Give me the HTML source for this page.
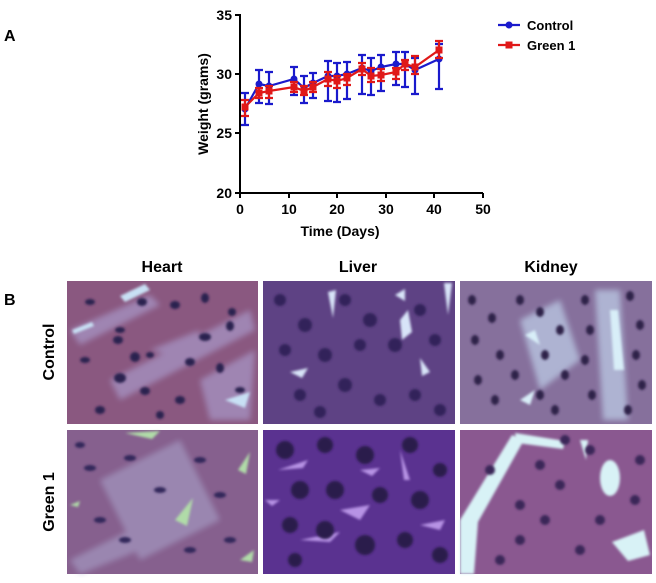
<!DOCTYPE html>
<html><head><style>
body{margin:0;background:#fff;width:656px;height:578px;overflow:hidden;font-family:"Liberation Sans",sans-serif}
</style></head><body>
<svg width="656" height="578" xmlns="http://www.w3.org/2000/svg" font-family="Liberation Sans, sans-serif" font-weight="bold">
<defs>
<filter id="bl"><feGaussianBlur stdDeviation="1.2"/></filter>
<filter id="bl3"><feGaussianBlur stdDeviation="3"/></filter>
</defs>
<text x="4" y="41" font-size="16">A</text>
<text x="4" y="305" font-size="16">B</text>
<g stroke="#000" stroke-width="2" fill="none">
<line x1="240" y1="14" x2="240" y2="193"/>
<line x1="239" y1="193" x2="483" y2="193"/>
<line x1="235" y1="15" x2="240" y2="15"/><line x1="235" y1="74" x2="240" y2="74"/><line x1="235" y1="133" x2="240" y2="133"/><line x1="235" y1="193" x2="240" y2="193"/>
<line x1="240" y1="193" x2="240" y2="198"/><line x1="289" y1="193" x2="289" y2="198"/><line x1="337" y1="193" x2="337" y2="198"/><line x1="386" y1="193" x2="386" y2="198"/><line x1="434" y1="193" x2="434" y2="198"/><line x1="483" y1="193" x2="483" y2="198"/>
</g>
<g font-size="14" text-anchor="end">
<text x="232" y="20">35</text><text x="232" y="79">30</text><text x="232" y="138">25</text><text x="232" y="198">20</text>
</g>
<g font-size="14" text-anchor="middle">
<text x="240" y="214">0</text><text x="289" y="214">10</text><text x="337" y="214">20</text><text x="386" y="214">30</text><text x="434" y="214">40</text><text x="483" y="214">50</text>
<text x="340" y="236" font-size="14">Time (Days)</text>
<text transform="translate(208,104) rotate(-90)" font-size="14">Weight (grams)</text>
</g>
<g stroke="#1a1acc" stroke-width="2.2" fill="none">
<path d="M245,125V93M241,93h8M241,125h8 M259,103V70M255,70h8M255,103h8 M269,104V72M265,72h8M265,104h8 M294,95V67M290,67h8M290,95h8 M304,103V76M300,76h8M300,103h8 M313,98V73M309,73h8M309,98h8 M328,101V61M324,61h8M324,101h8 M337,102V63M333,63h8M333,102h8 M347,99V62M343,62h8M343,99h8 M362,94V55M358,55h8M358,94h8 M371,95V58M367,58h8M367,95h8 M381,91V55M377,55h8M377,91h8 M396,85V52M392,52h8M392,85h8 M405,87V52M401,52h8M401,87h8 M415,94V58M411,58h8M411,94h8 M439,89V44M435,44h8M435,89h8"/>
<polyline points="245,109 259,84 269,86 294,79 304,88 313,83 328,76 337,76 347,74 362,68 371,71 381,67 396,64 405,64 415,70 439,59"/>
</g>
<g fill="#1a1acc">
<circle cx="245" cy="109" r="3.5"/><circle cx="259" cy="84" r="3.5"/><circle cx="269" cy="86" r="3.5"/><circle cx="294" cy="79" r="3.5"/><circle cx="304" cy="88" r="3.5"/><circle cx="313" cy="83" r="3.5"/><circle cx="328" cy="76" r="3.5"/><circle cx="337" cy="76" r="3.5"/><circle cx="347" cy="74" r="3.5"/><circle cx="362" cy="68" r="3.5"/><circle cx="371" cy="71" r="3.5"/><circle cx="381" cy="67" r="3.5"/><circle cx="396" cy="64" r="3.5"/><circle cx="405" cy="64" r="3.5"/><circle cx="415" cy="70" r="3.5"/><circle cx="439" cy="59" r="3.5"/>
</g>
<g stroke="#e01818" stroke-width="2.2" fill="none">
<path d="M245,116V100M241,100h8M241,116h8 M259,98V88M255,88h8M255,98h8 M269,98V86M265,86h8M265,98h8 M294,92V82M290,82h8M290,92h8 M304,95V86M300,86h8M300,95h8 M313,92V82M309,82h8M309,92h8 M328,86V72M324,72h8M324,86h8 M337,88V76M333,76h8M333,88h8 M347,85V74M343,74h8M343,85h8 M362,75V63M358,63h8M358,75h8 M371,82V68M367,68h8M367,82h8 M381,81V69M377,69h8M377,81h8 M396,79V68M392,68h8M392,79h8 M405,70V60M401,60h8M401,70h8 M415,74V56M411,56h8M411,74h8 M439,58V41M435,41h8M435,58h8"/>
<polyline points="245,107 259,93 269,91 294,87 304,91 313,87 328,79 337,81 347,78 362,69 371,76 381,75 396,72 405,64 415,67 439,50"/>
</g>
<g fill="#e01818">
<rect x="241.5" y="103.5" width="7" height="7"/><rect x="255.5" y="89.5" width="7" height="7"/><rect x="265.5" y="87.5" width="7" height="7"/><rect x="290.5" y="83.5" width="7" height="7"/><rect x="300.5" y="87.5" width="7" height="7"/><rect x="309.5" y="83.5" width="7" height="7"/><rect x="324.5" y="75.5" width="7" height="7"/><rect x="333.5" y="77.5" width="7" height="7"/><rect x="343.5" y="74.5" width="7" height="7"/><rect x="358.5" y="65.5" width="7" height="7"/><rect x="367.5" y="72.5" width="7" height="7"/><rect x="377.5" y="71.5" width="7" height="7"/><rect x="392.5" y="68.5" width="7" height="7"/><rect x="401.5" y="60.5" width="7" height="7"/><rect x="411.5" y="63.5" width="7" height="7"/><rect x="435.5" y="46.5" width="7" height="7"/>
</g>
<line x1="498" y1="25" x2="520" y2="25" stroke="#1a1acc" stroke-width="2.2"/><circle cx="509" cy="25" r="3.5" fill="#1a1acc"/>
<text x="527" y="30" font-size="13">Control</text>
<line x1="498" y1="45" x2="520" y2="45" stroke="#e01818" stroke-width="2.2"/><rect x="505.5" y="41.5" width="7" height="7" fill="#e01818"/>
<text x="527" y="50" font-size="13">Green 1</text>
<g font-size="16" text-anchor="middle">
<text x="162" y="272">Heart</text><text x="358" y="272">Liver</text><text x="551" y="272">Kidney</text>
<text transform="translate(54,352) rotate(-90)">Control</text>
<text transform="translate(54,502) rotate(-90)">Green 1</text>
</g>
<!-- Heart control -->
<rect x="67" y="281" width="191" height="143" fill="#8a5880"/>
<g filter="url(#bl3)" opacity="0.7" fill="#a898c8"><path d="M70,330 L150,295 L160,305 L80,345Z"/><path d="M110,380 L250,310 L255,330 L120,400Z"/><path d="M200,380 L255,350 L250,420 L210,420Z"/><path d="M150,350 L200,330 L190,360Z"/></g>
<g fill="#c8e0f4" filter="url(#bl)"><path d="M120,296 l25,-12 l5,6 l-25,12z"/><path d="M72,330 l20,-8 l2,4 l-20,8z"/><path d="M225,400 l25,-8 l-5,16z"/></g>
<g fill="#2a2050" filter="url(#bl)"><ellipse cx="90" cy="302" rx="5" ry="3"/><ellipse cx="142" cy="302" rx="5" ry="4"/><ellipse cx="175" cy="305" rx="5" ry="4"/><ellipse cx="205" cy="298" rx="4" ry="5"/><ellipse cx="232" cy="312" rx="4" ry="4"/><ellipse cx="120" cy="330" rx="5" ry="3"/><ellipse cx="118" cy="340" rx="5" ry="4"/><ellipse cx="205" cy="337" rx="6" ry="4"/><ellipse cx="230" cy="326" rx="4" ry="5"/><ellipse cx="85" cy="360" rx="5" ry="3"/><ellipse cx="135" cy="357" rx="5" ry="5"/><ellipse cx="150" cy="355" rx="4" ry="3"/><ellipse cx="190" cy="362" rx="5" ry="4"/><ellipse cx="220" cy="368" rx="4" ry="5"/><ellipse cx="120" cy="378" rx="6" ry="5"/><ellipse cx="145" cy="391" rx="5" ry="4"/><ellipse cx="180" cy="400" rx="5" ry="4"/><ellipse cx="240" cy="390" rx="5" ry="3"/><ellipse cx="100" cy="410" rx="5" ry="4"/><ellipse cx="160" cy="415" rx="4" ry="4"/></g>
<!-- Liver control -->
<rect x="263" y="281" width="192" height="143" fill="#5e4284"/>
<g filter="url(#bl)" fill="#d8e4f8"><path d="M328,292 l8,-2 l-3,28z"/><path d="M400,320 l8,-10 l4,22 l-10,8z"/><path d="M290,372 l18,-4 l-6,10z"/><path d="M420,358 l10,14 l-8,4z"/><path d="M444,283 l8,0 l-4,32z"/><path d="M395,295 l10,-6 l0,12z"/></g>
<g fill="#33235a" filter="url(#bl)"><circle cx="280" cy="300" r="6"/><circle cx="305" cy="325" r="7"/><circle cx="345" cy="300" r="6"/><circle cx="370" cy="320" r="7"/><circle cx="420" cy="310" r="6"/><circle cx="285" cy="350" r="6"/><circle cx="325" cy="355" r="7"/><circle cx="360" cy="345" r="6"/><circle cx="395" cy="345" r="7"/><circle cx="435" cy="340" r="6"/><circle cx="300" cy="395" r="6"/><circle cx="345" cy="385" r="7"/><circle cx="380" cy="400" r="6"/><circle cx="415" cy="395" r="6"/><circle cx="440" cy="410" r="6"/><circle cx="320" cy="412" r="6"/></g>
<!-- Kidney control -->
<rect x="460" y="281" width="192" height="143" fill="#86709c"/>
<g filter="url(#bl3)" opacity="0.8" fill="#b8c4e0"><path d="M520,320 l40,-20 l20,60 l-40,30z"/><path d="M595,290 l25,0 l8,130 l-25,0z"/></g>
<g fill="#d8eef8" filter="url(#bl)"><path d="M610,310 l8,0 l6,60 l-10,0z"/><path d="M525,335 l10,-5 l5,15z"/><path d="M520,400 l15,-10 l-5,15z"/></g>
<g fill="#2e2248" filter="url(#bl)"><ellipse cx="472" cy="300" rx="4" ry="5"/><ellipse cx="492" cy="318" rx="4" ry="5"/><ellipse cx="475" cy="340" rx="4" ry="5"/><ellipse cx="500" cy="355" rx="4" ry="5"/><ellipse cx="478" cy="380" rx="4" ry="5"/><ellipse cx="495" cy="400" rx="4" ry="5"/><ellipse cx="520" cy="300" rx="4" ry="5"/><ellipse cx="540" cy="312" rx="4" ry="5"/><ellipse cx="560" cy="330" rx="4" ry="5"/><ellipse cx="545" cy="355" rx="4" ry="5"/><ellipse cx="565" cy="375" rx="4" ry="5"/><ellipse cx="540" cy="395" rx="4" ry="5"/><ellipse cx="555" cy="410" rx="4" ry="5"/><ellipse cx="585" cy="300" rx="4" ry="5"/><ellipse cx="590" cy="330" rx="4" ry="5"/><ellipse cx="585" cy="360" rx="4" ry="5"/><ellipse cx="592" cy="395" rx="4" ry="5"/><ellipse cx="630" cy="296" rx="4" ry="5"/><ellipse cx="640" cy="325" rx="4" ry="5"/><ellipse cx="636" cy="355" rx="4" ry="5"/><ellipse cx="642" cy="385" rx="4" ry="5"/><ellipse cx="628" cy="410" rx="4" ry="5"/><ellipse cx="515" cy="375" rx="4" ry="5"/></g>
<!-- Heart green -->
<rect x="67" y="430" width="191" height="144" fill="#86608e"/>
<g filter="url(#bl3)" opacity="0.6" fill="#a8a0c8"><path d="M100,480 l80,-40 l40,80 l-80,40z"/><path d="M70,560 l60,-30 l10,20 l-60,24z"/></g>
<g filter="url(#bl)" fill="#b0dca8"><path d="M125,433 l35,-2 l-8,8z"/><path d="M238,470 l12,-18 l-4,22z"/><path d="M175,520 l18,-22 l-6,28z"/><path d="M240,560 l14,-10 l-2,12z"/><path d="M70,505 l10,-4 l-2,6z"/></g>
<g fill="#33285a" filter="url(#bl)"><ellipse cx="90" cy="468" rx="6" ry="3"/><ellipse cx="130" cy="458" rx="6" ry="3"/><ellipse cx="200" cy="460" rx="6" ry="3"/><ellipse cx="160" cy="490" rx="6" ry="3"/><ellipse cx="220" cy="495" rx="6" ry="3"/><ellipse cx="100" cy="520" rx="6" ry="3"/><ellipse cx="125" cy="540" rx="6" ry="3"/><ellipse cx="190" cy="550" rx="6" ry="3"/><ellipse cx="230" cy="540" rx="6" ry="3"/><ellipse cx="80" cy="445" rx="5" ry="3"/></g>
<!-- Liver green -->
<rect x="263" y="430" width="192" height="144" fill="#5a3290"/>
<g filter="url(#bl)" fill="#c8a4f4" opacity="0.85"><path d="M278,470 l30,-10 l-5,8z"/><path d="M340,510 l30,-5 l-10,15z"/><path d="M400,450 l10,30 l-6,0z"/><path d="M300,540 l40,-8 l-10,10z"/><path d="M360,470 l20,-2 l-8,8z"/><path d="M420,525 l25,-5 l-5,10z"/><path d="M265,500 l15,0 l-8,6z"/></g>
<g fill="#2a1a4c" filter="url(#bl)"><circle cx="285" cy="450" r="9"/><circle cx="325" cy="445" r="8"/><circle cx="365" cy="455" r="9"/><circle cx="410" cy="445" r="8"/><circle cx="440" cy="470" r="7"/><circle cx="300" cy="490" r="9"/><circle cx="335" cy="490" r="9"/><circle cx="380" cy="495" r="8"/><circle cx="420" cy="500" r="9"/><circle cx="290" cy="525" r="8"/><circle cx="325" cy="530" r="9"/><circle cx="365" cy="545" r="10"/><circle cx="405" cy="540" r="8"/><circle cx="440" cy="555" r="8"/><circle cx="295" cy="560" r="7"/></g>
<!-- Kidney green -->
<rect x="460" y="430" width="192" height="144" fill="#8a5890"/>
<g filter="url(#bl)" fill="#d8f2f6"><path d="M460,520 L512,435 L524,440 L478,522 L474,574 L460,574Z"/><path d="M515,433 l50,8 l-2,8 l-46,-6z"/><ellipse cx="610" cy="478" rx="10" ry="18"/><path d="M612,542 l32,-12 l6,25 l-22,6z"/><path d="M580,440 l8,0 l-2,20z"/></g>
<g fill="#3a2858" filter="url(#bl)"><circle cx="540" cy="465" r="5"/><circle cx="560" cy="485" r="5"/><circle cx="590" cy="450" r="5"/><circle cx="520" cy="505" r="5"/><circle cx="545" cy="520" r="5"/><circle cx="520" cy="540" r="5"/><circle cx="580" cy="550" r="5"/><circle cx="600" cy="520" r="5"/><circle cx="640" cy="460" r="5"/><circle cx="635" cy="500" r="5"/><circle cx="500" cy="560" r="5"/><circle cx="565" cy="440" r="5"/><circle cx="490" cy="470" r="5"/></g>
</svg>
</body></html>
